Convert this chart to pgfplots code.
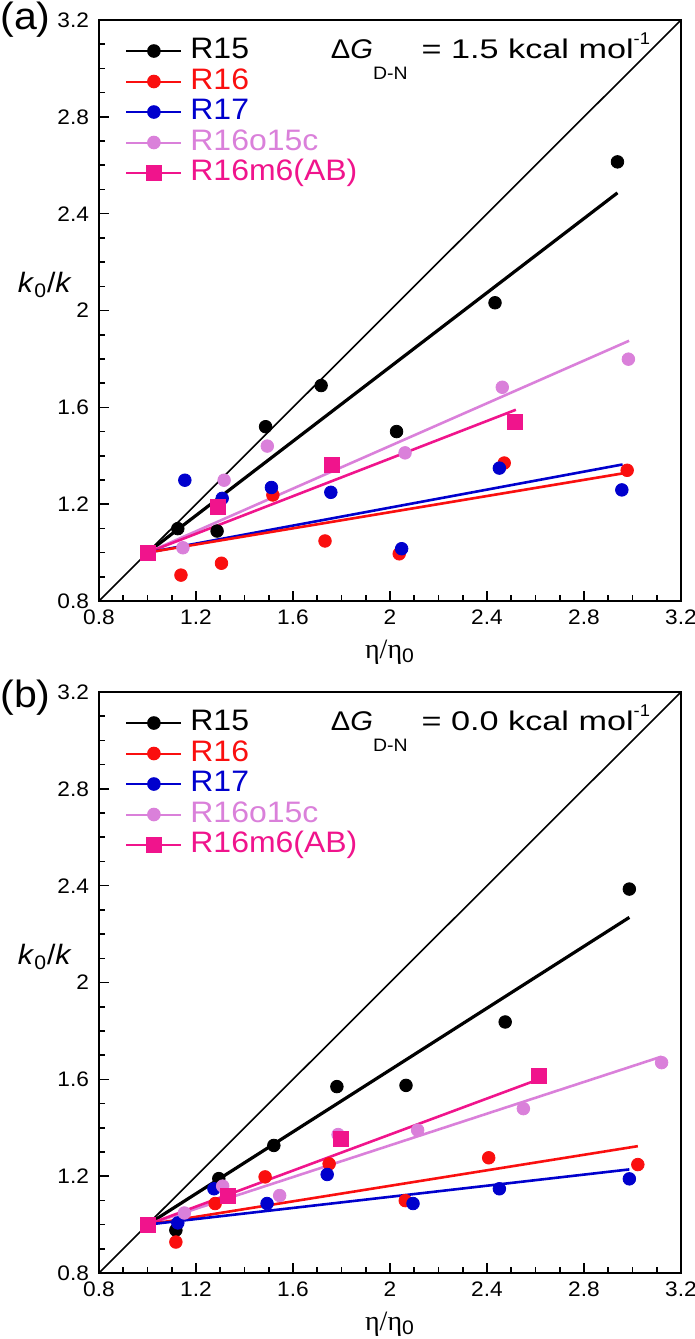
\documentclass[border=0pt]{standalone}
\usepackage{graphicx}
\usepackage{pgfplots}
\pgfplotsset{compat=1.18}
\usepackage{fontspec}
\setmainfont{Liberation Sans}[FakeStretch=1.08]
\newfontfamily\serif{Liberation Serif}
\definecolor{cR15}{RGB}{0,0,0}
\definecolor{cR16}{RGB}{250,15,15}
\definecolor{cR17}{RGB}{0,0,205}
\definecolor{cRo}{RGB}{218,128,218}
\definecolor{cRm}{RGB}{240,20,140}
\pgfplotsset{
  myaxis/.style={
    scale only axis, width=291pt, height=290.5pt,
    xmin=0.8, xmax=3.2, ymin=0.8, ymax=3.2,
    xtick={0.8,1.2,1.6,2,2.4,2.8,3.2},
    ytick={0.8,1.2,1.6,2,2.4,2.8,3.2},
    minor tick num=3,
    tick align=inside, tick pos=left,
    major tick length=5pt, minor tick length=3pt,
    axis line style={line width=0.9pt},
    every tick/.style={black, line width=0.8pt},
    tick label style={font=\fontsize{10.5}{12}\selectfont},
    /pgf/number format/assume math mode=true,
    yticklabel style={xshift=-1.5pt},
    xticklabel style={yshift=-1pt},
    xlabel={{\serif η/η}\textsubscript{0}},
    xlabel style={at={(axis description cs:0.5,0)}, anchor=base, yshift=-28.5pt, font=\fontsize{14}{14}\selectfont},
    ylabel={\textit{k}\textsubscript{0}/\textit{k}},
    every axis y label/.style={at={(axis description cs:-0.093,0.544)}, anchor=center, font=\fontsize{14}{14}\selectfont},
    clip=false,
    legend cell align=left,
    legend style={draw=none, fill=none, at={(axis description cs:0,1)}, anchor=north west,
      xshift=13pt, yshift=-8.4pt, inner sep=0pt, row sep=1.45pt,
      font=\fontsize{14.8}{15}\selectfont,
      nodes={inner sep=0pt, text height=10.8pt, text depth=3pt},
      /tikz/every odd column/.append style={column sep=4pt}},
    legend image code/.code={\draw[mark repeat=2,mark phase=2] plot coordinates {(0pt,0pt)(13.75pt,0pt)(27.5pt,0pt)};},
  },
  dots/.style={only marks, mark=*, mark size=3.15pt, forget plot},
  sq/.style={only marks, mark=square*, mark size=3.75pt, forget plot},
  fit/.style={line width=1.3pt, no marks, forget plot},
  leg/.style={line width=1pt, mark=*, mark size=2.9pt},
}
\newcommand{\dG}[1]{Δ\textit{G}\raisebox{-10.5pt}{\fontsize{9}{9}\selectfont D-N}\hspace{7pt}\resizebox{106pt}{\height}{= #1 kcal mol}\raisebox{7pt}{\fontsize{8.5}{8.5}\selectfont -1}}
\begin{document}
\begin{tikzpicture}
\useasboundingbox (0,0) rectangle (347.5pt,-669.5pt);
% ---------------- panel (a)
\begin{axis}[myaxis, at={(49.5pt,-300.5pt)}, anchor=south west]
\addlegendimage{cR15, leg}
\addlegendentry{\textcolor{cR15}{R15}}
\addlegendimage{cR16, leg}
\addlegendentry{\textcolor{cR16}{R16}}
\addlegendimage{cR17, leg}
\addlegendentry{\textcolor{cR17}{R17}}
\addlegendimage{cRo, leg}
\addlegendentry{\textcolor{cRo}{R16o15c}}
\addlegendimage{cRm, leg, mark=square*, mark size=3.3pt}
\addlegendentry{\textcolor{cRm}{R16m6(AB)}}
\addplot[black, line width=0.8pt, no marks, forget plot] coordinates {(0.8,0.8) (3.2,3.2)};
\addplot[fit, cR15, line width=1.6pt] coordinates {(1,1) (2.938,2.486)};
\addplot[fit, cRo] coordinates {(1,1) (2.986,1.875)};
\addplot[fit, cRm] coordinates {(1,1) (2.519,1.590)};
\addplot[fit, cR17] coordinates {(1,1) (2.959,1.364)};
\addplot[fit, cR16] coordinates {(1,1) (2.959,1.327)};
\addplot[dots, cR15] coordinates {(1,1) (1.125,1.099) (1.287,1.089) (1.487,1.52) (1.716,1.69) (2.027,1.50) (2.433,2.032) (2.938,2.614)};
\addplot[dots, cR16] coordinates {(1,1) (1.138,0.907) (1.305,0.956) (1.517,1.238) (1.732,1.048) (2.038,0.995) (2.471,1.370) (2.978,1.34)};
\addplot[dots, cR17] coordinates {(1,1) (1.154,1.299) (1.308,1.224) (1.511,1.269) (1.756,1.249) (2.048,1.016) (2.451,1.349) (2.956,1.259)};
\addplot[dots, cRo] coordinates {(1,1) (1.146,1.02) (1.316,1.299) (1.494,1.44) (2.062,1.412) (2.463,1.683) (2.983,1.799)};
\addplot[sq, cRm] coordinates {(1,1) (1.289,1.189) (1.76,1.363) (2.517,1.541)};
\node[anchor=base west, font=\fontsize{13.5}{15}\selectfont, inner sep=0pt] at (axis cs:1.755,3.039) {\dG{1.5}};
\node[anchor=west, font=\fontsize{19}{19}\selectfont, inner sep=0pt] at (axis description cs:-0.1701,1.0) {(a)};
\end{axis}
% ---------------- panel (b)
\begin{axis}[myaxis, at={(49.5pt,-636.5pt)}, anchor=south west]
\addlegendimage{cR15, leg}
\addlegendentry{\textcolor{cR15}{R15}}
\addlegendimage{cR16, leg}
\addlegendentry{\textcolor{cR16}{R16}}
\addlegendimage{cR17, leg}
\addlegendentry{\textcolor{cR17}{R17}}
\addlegendimage{cRo, leg}
\addlegendentry{\textcolor{cRo}{R16o15c}}
\addlegendimage{cRm, leg, mark=square*, mark size=3.3pt}
\addlegendentry{\textcolor{cRm}{R16m6(AB)}}
\addplot[black, line width=0.8pt, no marks, forget plot] coordinates {(0.8,0.8) (3.2,3.2)};
\addplot[fit, cR15, line width=1.6pt] coordinates {(1,1) (2.987,2.269)};
\addplot[fit, cRo] coordinates {(1,1) (3.120,1.694)};
\addplot[fit, cRm] coordinates {(1,1) (2.594,1.593)};
\addplot[fit, cR16] coordinates {(1,1) (3.022,1.324)};
\addplot[fit, cR17] coordinates {(1,1) (2.987,1.228)};
\addplot[dots, cR15] coordinates {(1,1) (1.117,0.977) (1.294,1.19) (1.521,1.327) (1.781,1.570) (2.066,1.575) (2.475,1.837) (2.987,2.386)};
\addplot[dots, cR16] coordinates {(1,1) (1.117,0.928) (1.279,1.087) (1.485,1.197) (1.749,1.251) (2.063,1.099) (2.407,1.276) (3.022,1.248)};
\addplot[dots, cR17] coordinates {(1,1) (1.125,1.007) (1.274,1.148) (1.493,1.087) (1.741,1.207) (2.095,1.087) (2.451,1.148) (2.987,1.189)};
\addplot[dots, cRo] coordinates {(1,1) (1.152,1.048) (1.310,1.159) (1.545,1.12) (1.786,1.372) (2.114,1.39) (2.550,1.479) (3.120,1.669)};
\addplot[sq, cRm] coordinates {(1,1) (1.331,1.117) (1.797,1.354) (2.615,1.616)};
\node[anchor=base west, font=\fontsize{13.5}{15}\selectfont, inner sep=0pt] at (axis cs:1.755,3.039) {\dG{0.0}};
\node[anchor=west, font=\fontsize{19}{19}\selectfont, inner sep=0pt] at (axis description cs:-0.1701,0.991) {(b)};
\end{axis}
\end{tikzpicture}
\end{document}
